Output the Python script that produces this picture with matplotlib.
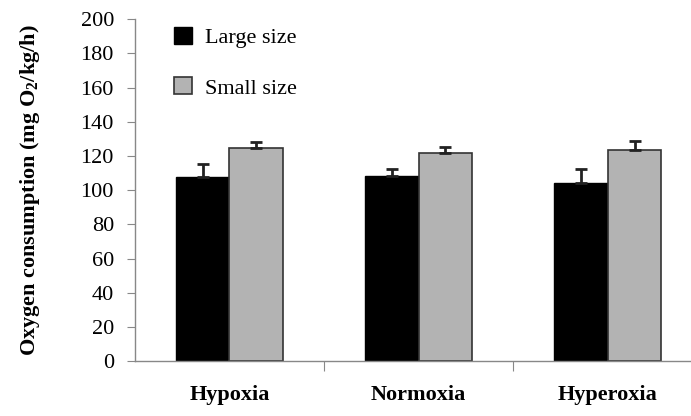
"""Oxygen consumption by body size under three oxygen conditions."""

import matplotlib
matplotlib.use("Agg")
import matplotlib.pyplot as plt
import numpy as np

categories = ["Hypoxia", "Normoxia", "Hyperoxia"]
large_mean = [107.8, 108.3, 103.9]
large_err = [7.2, 3.9, 8.2]
small_mean = [124.6, 121.8, 123.4]
small_err = [3.6, 3.5, 5.4]
series_labels = ["Large size", "Small size"]
yticks = list(range(0, 201, 20))


def main() -> None:
    plt.rcParams["font.family"] = ["Liberation Serif", "DejaVu Serif"]
    plt.rcParams["mathtext.fontset"] = "custom"
    plt.rcParams["mathtext.rm"] = "Liberation Serif"
    plt.rcParams["mathtext.bf"] = "Liberation Serif:bold"
    fig = plt.figure(figsize=(6.91, 4.16), dpi=100)
    ax = fig.add_axes([0.195, 0.132, 0.805, 0.822])

    x = np.arange(len(categories))
    w = 0.283
    err_kw = dict(ecolor="#222222", elinewidth=2, capsize=4.5, capthick=2)
    ax.bar(x - w / 2, large_mean, w, color="black", edgecolor="black",
           linewidth=1, label=series_labels[0],
           yerr=[np.zeros(3), large_err], error_kw=err_kw)
    ax.bar(x + w / 2, small_mean, w, color="#b3b3b3", edgecolor="#333333",
           linewidth=1.2, label=series_labels[1],
           yerr=[np.zeros(3), small_err], error_kw=err_kw)

    ax.set_xlim(-0.5, 2.44)
    ax.set_ylim(0, 200)
    ax.set_yticks(yticks)
    ax.tick_params(axis="y", labelsize=16, length=6, color="#888888", direction="out", pad=9)

    # ticks between groups, labels at group centres
    ax.set_xticks([0.5, 1.5])
    ax.set_xticklabels([])
    ax.set_xticks(x, minor=True)
    ax.set_xticklabels(categories, minor=True, fontsize=16, fontweight="bold")
    ax.tick_params(axis="x", which="major", length=7, color="#888888")
    ax.tick_params(axis="x", which="minor", length=0, pad=17)

    for side in ("top", "right"):
        ax.spines[side].set_visible(False)
    for side in ("left", "bottom"):
        ax.spines[side].set_color("#888888")
        ax.spines[side].set_linewidth(1)

    ax.set_ylabel(r"Oxygen consumption (mg O$_\mathbf{2}$/kg/h)", fontsize=16, fontweight="bold")
    ax.yaxis.set_label_coords(-0.167, 0.5)
    ax.legend(loc="upper left", bbox_to_anchor=(0.035, 1.035), frameon=False,
              fontsize=16, handlelength=0.8, handleheight=0.8,
              labelspacing=1.3, handletextpad=0.6)

    fig.savefig("out.png", dpi=100)
    plt.close(fig)


if __name__ == "__main__":
    main()
